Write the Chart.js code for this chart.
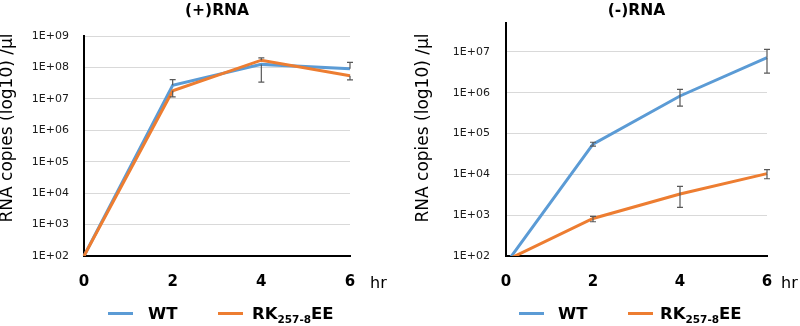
<!DOCTYPE html>
<html>
<head>
<meta charset="utf-8">
<script src="https://cdn.jsdelivr.net/npm/chart.js@4/dist/chart.umd.min.js"></script>
<style>
  body { margin: 0; background: #fff; }
  #page { position: relative; width: 800px; height: 326px; overflow: hidden; font-family: 'DejaVu Sans', sans-serif; }
  .box { position: absolute; top: 0; width: 400px; height: 326px; }
  .leg-line { position: absolute; height: 3px; }
  .leg-text { position: absolute; font-weight: bold; font-size: 16.5px; line-height: 16px; color: #000; white-space: nowrap; }
  .leg-text sub { font-size: 10.5px; vertical-align: -4px; line-height: 0; }
</style>
</head>
<body>
<div id="page">
  <div class="box" style="left:0"><canvas id="plus"></canvas></div>
  <div class="box" style="left:400px"><canvas id="minus"></canvas></div>
</div>
<script>
// time points (hr)
const hours = ['0', '2', '4', '6'];

// (+)RNA copies / µl
const plusWT = [1e2, 2.7e7, 1.25e8, 9.1e7];
const plusWTLow = [null, null, 3.4e7, null];
const plusWTHigh = [null, 4.1e7, null, 1.44e8];
const plusRK = [1e2, 1.8e7, 1.7e8, 5.4e7];
const plusRKLow = [null, 1.15e7, null, 4e7];
const plusRKHigh = [null, null, 2e8, null];

// (-)RNA copies / µl
const minusWT = [65, 5.5e4, 8.3e5, 7.2e6];
const minusWTLow = [null, 4.9e4, 4.7e5, 3e6];
const minusWTHigh = [null, 6.1e4, 1.2e6, 1.15e7];
const minusRK = [78, 830, 3.3e3, 1.04e4];
const minusRKLow = [null, 690, 1.55e3, 7.8e3];
const minusRKHigh = [null, 930, 5.1e3, 1.3e4];

const plusTicks = [1e2, 1e3, 1e4, 1e5, 1e6, 1e7, 1e8, 1e9];
const plusTickLabels = ['1E+02', '1E+03', '1E+04', '1E+05', '1E+06', '1E+07', '1E+08', '1E+09'];
const minusTicks = [1e2, 1e3, 1e4, 1e5, 1e6, 1e7];
const minusTickLabels = ['1E+02', '1E+03', '1E+04', '1E+05', '1E+06', '1E+07'];
const yMin = 1e2;
const plusMax = 1e9;
const minusMax = 5e7;

const titles = ['(+)RNA', '(-)RNA'];
const yTitle = 'RNA copies (log10) /µl';
const unitLabel = 'hr';
const seriesNames = ['WT', 'RK<sub>257-8</sub>EE'];

const BLUE = '#5b9bd5';
const ORANGE = '#ed7d31';

Chart.defaults.font.family = "'DejaVu Sans', sans-serif";

// error bars drawn from the scales
const errorBars = {
    id: 'errorBars',
    afterDatasetsDraw(chart) {
        const ctx = chart.ctx;
        const xs = chart.scales.x;
        const ys = chart.scales.y;
        ctx.save();
        ctx.strokeStyle = '#595959';
        ctx.lineWidth = 1.2;
        chart.data.datasets.forEach(ds => {
            ds.data.forEach((v, i) => {
                const px = xs.getPixelForValue(i);
                const py = ys.getPixelForValue(v);
                [ds.errLow[i], ds.errHigh[i]].forEach(e => {
                    if (e == null) return;
                    const ey = ys.getPixelForValue(e);
                    ctx.beginPath();
                    ctx.moveTo(px, py);
                    ctx.lineTo(px, ey);
                    ctx.moveTo(px - 3, ey);
                    ctx.lineTo(px + 3, ey);
                    ctx.stroke();
                });
            });
        });
        ctx.restore();
    }
};

// rotated y title and "hr" unit label
const sideText = {
    id: 'sideText',
    afterDraw(chart, args, opts) {
        const ctx = chart.ctx;
        const area = chart.chartArea;
        ctx.save();
        ctx.fillStyle = '#000';
        ctx.font = "17px 'DejaVu Sans', sans-serif";
        ctx.textAlign = 'center';
        ctx.textBaseline = 'middle';
        ctx.translate(opts.titleX, opts.titleY);
        ctx.rotate(-Math.PI / 2);
        ctx.fillText(yTitle, 0, 0);
        ctx.restore();

        ctx.save();
        ctx.fillStyle = '#000';
        ctx.font = "16px 'DejaVu Sans', sans-serif";
        ctx.textAlign = 'left';
        ctx.textBaseline = 'alphabetic';
        ctx.fillText(unitLabel, area.right + opts.unitDx, 288);
        ctx.restore();
    }
};

function makeChart(id, title, wt, wtLow, wtHigh, rk, rkLow, rkHigh, ticks, tickLabels, yMax, layout) {
    return new Chart(document.getElementById(id), {
        type: 'line',
        data: {
            labels: hours,
            datasets: [
                { label: 'WT', data: wt, errLow: wtLow, errHigh: wtHigh, borderColor: BLUE, borderWidth: 3, pointRadius: 0, order: 1 },
                { label: 'RK257-8EE', data: rk, errLow: rkLow, errHigh: rkHigh, borderColor: ORANGE, borderWidth: 3, pointRadius: 0, order: 0 }
            ]
        },
        options: {
            responsive: true,
            maintainAspectRatio: false,
            animation: false,
            layout: { padding: { left: 0, right: layout.right, top: 0, bottom: 0 } },
            plugins: {
                legend: { display: false },
                tooltip: { enabled: false },
                title: {
                    display: true,
                    text: title,
                    fullSize: false,
                    color: '#000',
                    font: { size: 15.5, weight: 'bold', lineHeight: 1.2 },
                    padding: { top: 2, bottom: layout.top - 20.6 }
                },
                sideText: { titleX: layout.titleX, titleY: 128, unitDx: layout.unitDx }
            },
            scales: {
                x: {
                    type: 'category',
                    offset: false,
                    grid: { drawOnChartArea: false, drawTicks: false },
                    border: { color: '#000', width: 2 },
                    ticks: { color: '#000', font: { size: 15, weight: 'bold' }, padding: 17 },
                    afterFit: s => { s.height = 326 - 256; }
                },
                y: {
                    type: 'logarithmic',
                    min: yMin,
                    max: yMax,
                    afterBuildTicks: s => { s.ticks = ticks.map(v => ({ value: v })); },
                    grid: { color: '#d9d9d9', lineWidth: 1, drawTicks: false },
                    border: { color: '#000', width: 2 },
                    ticks: {
                        color: '#1a1a1a',
                        font: { size: 11 },
                        padding: layout.tickPad,
                        callback: (v, i) => tickLabels[i]
                    },
                    afterFit: s => { s.width = layout.left; }
                }
            }
        },
        plugins: [errorBars, sideText]
    });
}

makeChart('plus', titles[0], plusWT, plusWTLow, plusWTHigh, plusRK, plusRKLow, plusRKHigh,
    plusTicks, plusTickLabels, plusMax,
    { left: 84, right: 50, top: 36, tickPad: 15, titleX: 8, unitDx: 20 });
makeChart('minus', titles[1], minusWT, minusWTLow, minusWTHigh, minusRK, minusRKLow, minusRKHigh,
    minusTicks, minusTickLabels, minusMax,
    { left: 106, right: 33, top: 23.3, tickPad: 16, titleX: 24, unitDx: 14 });

// legends (HTML so the subscript stays real text)
const legendSpots = [
    { lines: [108, 218], texts: [148, 252] },
    { lines: [519, 628], texts: [558, 660] }
];
const page = document.getElementById('page');
legendSpots.forEach(spot => {
    [BLUE, ORANGE].forEach((c, i) => {
        const line = document.createElement('div');
        line.className = 'leg-line';
        line.style.left = spot.lines[i] + 'px';
        line.style.top = '312px';
        line.style.width = '25px';
        line.style.background = c;
        page.appendChild(line);
        const txt = document.createElement('div');
        txt.className = 'leg-text';
        txt.style.left = spot.texts[i] + 'px';
        txt.style.top = '306px';
        txt.innerHTML = seriesNames[i];
        page.appendChild(txt);
    });
});
</script>
</body>
</html>
